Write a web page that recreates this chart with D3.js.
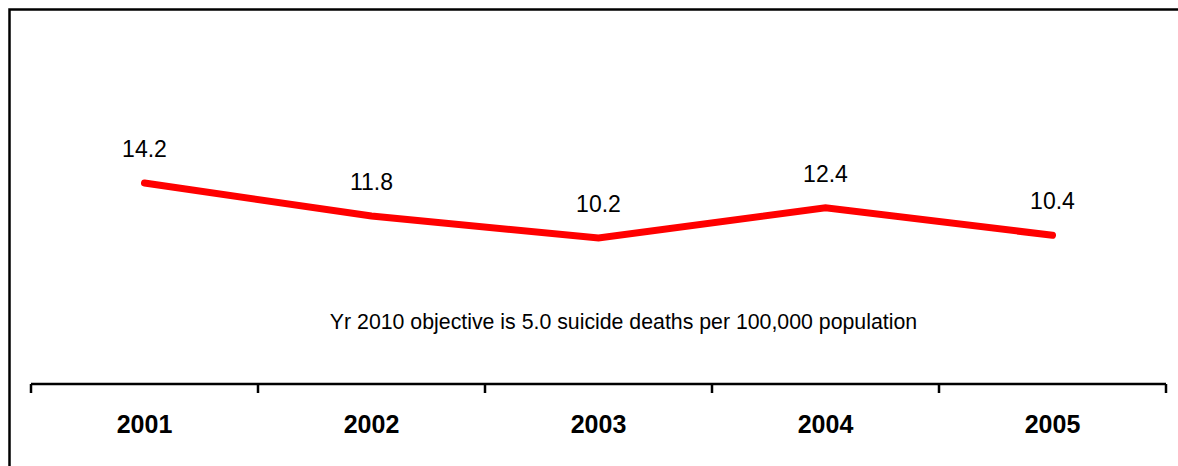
<!DOCTYPE html>
<html><head><meta charset="utf-8">
<script src="https://cdn.jsdelivr.net/npm/d3@7"></script>
<style>html,body{margin:0;background:#fff;overflow:hidden}svg{display:block;overflow:hidden}text{font-family:Arial,"Liberation Sans",sans-serif}</style>
</head><body>
<svg id="c" width="1178" height="466"></svg>
<script>
const years = ["2001","2002","2003","2004","2005"];
const rates = [14.2, 11.8, 10.2, 12.4, 10.4];
const note = "Yr 2010 objective is 5.0 suicide deaths per 100,000 population";

const svg = d3.select("#c");
// outer frame (extends past the picture on right and bottom)
svg.append("rect").attr("x",9.5).attr("y",9.5).attr("width",1200).attr("height",500)
  .attr("fill","none").attr("stroke","#000").attr("stroke-width",2.5);

const x = d3.scaleBand().domain(years).range([31,1166]).padding(0);
const y = d3.scaleLinear().domain([0,25]).range([378.3,34.5]);

const axisY = 384;
const ax = svg.append("g").attr("transform",`translate(0,${axisY})`)
  .call(d3.axisBottom(x).tickSize(0).tickFormat(""));
ax.select(".domain").attr("stroke","#000").attr("stroke-width",2.5).attr("d","M31,0H1166");
// ticks at band boundaries
const bounds = years.map(d=>x(d)).concat([x.range()[1]]);
svg.append("g").selectAll("line").data(bounds).join("line")
  .attr("x1",d=>d).attr("x2",d=>d).attr("y1",axisY).attr("y2",axisY+9)
  .attr("stroke","#000").attr("stroke-width",2.5);
svg.append("g").selectAll("text").data(years).join("text")
  .attr("x",d=>x(d)+x.bandwidth()/2).attr("y",433)
  .attr("text-anchor","middle").attr("font-weight","bold").attr("font-size",25)
  .text(d=>d);

const line = d3.line().x((d,i)=>x(years[i])+x.bandwidth()/2).y(d=>y(d));
svg.append("path").datum(rates).attr("d",line).attr("fill","none")
  .attr("stroke","#ff0000").attr("stroke-width",7).attr("stroke-linecap","round").attr("stroke-linejoin","miter");

svg.append("g").selectAll("text").data(rates).join("text")
  .attr("x",(d,i)=>x(years[i])+x.bandwidth()/2).attr("y",d=>y(d)-26)
  .attr("text-anchor","middle").attr("font-size",23).attr("fill","#000")
  .text(d=>d.toFixed(1));

svg.append("text").attr("x",623.5).attr("y",329).attr("text-anchor","middle")
  .attr("font-size",21.3).text(note);
</script>
</body></html>
